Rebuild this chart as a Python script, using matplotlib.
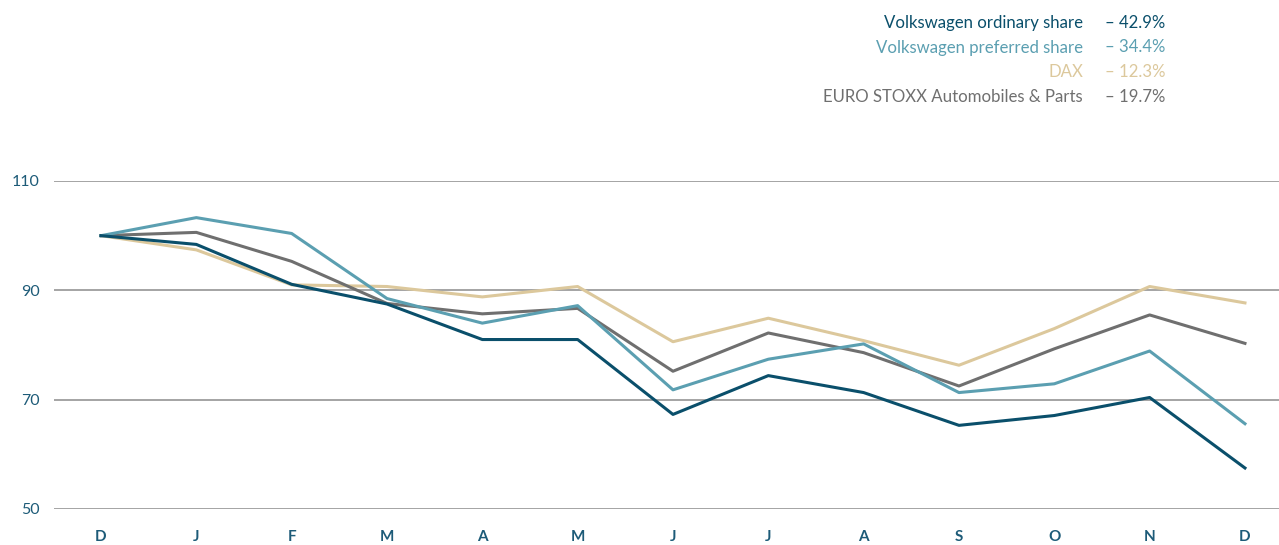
import matplotlib.pyplot as plt

plt.rcParams['font.family'] = ['Lato', 'DejaVu Sans']

months = ['D', 'J', 'F', 'M', 'A', 'M', 'J', 'J', 'A', 'S', 'O', 'N', 'D']

vw_ordinary = [100, 98.4, 91.1, 87.5, 81.0, 81.0, 67.3, 74.4, 71.3, 65.3, 67.1, 70.4, 57.5]
vw_preferred = [100, 103.3, 100.4, 88.5, 84.0, 87.2, 71.8, 77.4, 80.2, 71.3, 72.9, 78.9, 65.6]
dax = [100, 97.4, 91.0, 90.7, 88.8, 90.7, 80.6, 84.9, 80.8, 76.3, 83.0, 90.7, 87.7]
euro_stoxx = [100, 100.6, 95.3, 87.6, 85.7, 86.7, 75.2, 82.2, 78.6, 72.5, 79.3, 85.5, 80.3]

legend_names = ['Volkswagen ordinary share', 'Volkswagen preferred share', 'DAX',
                'EURO STOXX Automobiles & Parts']
legend_values = ['– 42.9%', '– 34.4%', '– 12.3%', '– 19.7%']

c_ord = '#0a4f6b'
c_pref = '#5b9fb1'
c_dax = '#dcc89c'
c_stoxx = '#6f6f6f'
tick_col = '#1d5b78'

fig = plt.figure(figsize=(12.79, 5.45), dpi=100)
ax = fig.add_axes([54 / 1279, 36 / 545, 1 - 54 / 1279, 328 / 545])

x = range(len(months))
for y in [50, 70, 90, 110]:
    ax.axhline(y, color='#8c8c8c', lw=1.1, zorder=1)

ax.plot(x, dax, color=c_dax, lw=2.2, zorder=3)
ax.plot(x, euro_stoxx, color=c_stoxx, lw=2.2, zorder=4)
ax.plot(x, vw_preferred, color=c_pref, lw=2.2, zorder=5)
ax.plot(x, vw_ordinary, color=c_ord, lw=2.2, zorder=6)

ax.set_xlim(-0.493, 12.357)
ax.set_ylim(50, 110)
ax.set_yticks([50, 70, 90, 110])
ax.set_xticks(list(x))
ax.set_xticklabels(months, fontweight='bold', fontsize=11, color=tick_col)
ax.tick_params(axis='x', length=0, pad=15)
ax.tick_params(axis='y', length=0, pad=10.5, labelsize=11.5, labelcolor=tick_col)
for s in ax.spines.values():
    s.set_visible(False)

cols = [c_ord, c_pref, c_dax, c_stoxx]
for i, (n, v, c) in enumerate(zip(legend_names, legend_values, cols)):
    ypx = 23 + i * 24.5
    fig.text(1083 / 1279, 1 - ypx / 545, n, color=c, fontsize=12.1, ha='right', va='center')
    fig.text(1105 / 1279, 1 - ypx / 545, v, color=c, fontsize=12.1, ha='left', va='center')

fig.savefig('out.png', dpi=100)
